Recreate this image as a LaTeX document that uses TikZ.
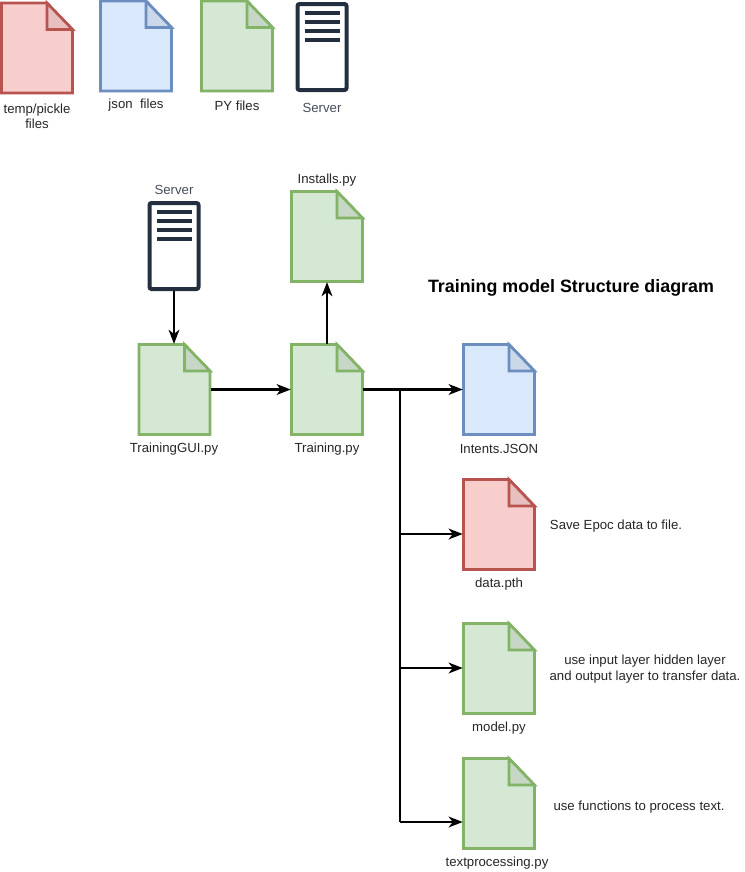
\documentclass[tikz,border=0pt]{standalone}
\usepackage{fontspec}
\setmainfont{Liberation Sans}
\usepackage{xcolor}
\usetikzlibrary{arrows.meta}
\definecolor{redfill}{HTML}{F8CECC}
\definecolor{redline}{HTML}{B85450}
\definecolor{redfold}{HTML}{E6BFBE}
\definecolor{bluefill}{HTML}{DAE8FC}
\definecolor{blueline}{HTML}{6C8EBF}
\definecolor{bluefold}{HTML}{CAD8EA}
\definecolor{greenfill}{HTML}{D5E8D4}
\definecolor{greenline}{HTML}{82B366}
\definecolor{greenfold}{HTML}{C6D8C5}
\definecolor{servercol}{HTML}{232F3E}
\tikzset{
  x=0.75pt, y=-0.75pt,
  lbl/.style={font=\fontsize{9.9}{11.4}\selectfont, text=black!85, align=center, inner sep=0pt},
  srvlbl/.style={lbl, text=servercol!85},
  arrow/.style={draw=black, line width=1.8pt, -{Stealth[length=10.5pt,width=8pt,inset=3pt]}},
  trunk/.style={draw=black, line width=2.2pt},
  filebox/.style={minimum width=54pt, minimum height=68pt, inner sep=0pt},
  redfile/.style={fill=redfill, draw=redline, line width=2pt},
  bluefile/.style={fill=bluefill, draw=blueline, line width=2pt},
  greenfile/.style={fill=greenfill, draw=greenline, line width=2pt},
  redfold/.style={redfile, fill=redfold},
  bluefold/.style={bluefile, fill=bluefold},
  greenfold/.style={greenfile, fill=greenfold},
  serverbox/.style={minimum width=36.75pt, minimum height=64.5pt, inner sep=0pt, draw=servercol,
    line width=3pt, rounded corners=1.5pt, fill=white},
  serverbar/.style={draw=servercol, line width=3.4pt},
}
% file icon: colour, name, centre
\newcommand{\docfile}[3]{
  \node[filebox] (#2) at (#3) {};
  \draw[#1file, shift={(#3)}] (-35.5,-45) -- (10,-45) -- (35.5,-18.5) -- (35.5,45) -- (-35.5,45) -- cycle;
  \draw[#1fold, shift={(#3)}] (10,-45) -- (10,-18.5) -- (35.5,-18.5) -- cycle;
}
% server icon: name, centre
\newcommand{\servericon}[2]{
  \node[serverbox] (#1) at (#2) {};
  \foreach \barpos in {-34,-25,-16,-7}
    \draw[serverbar, shift={(#2)}] (-17.5,\barpos) -- (17.5,\barpos);
}
\begin{document}
\begin{tikzpicture}
  \useasboundingbox (0,0) rectangle (744,872);
  % legend
  \docfile{red}{tempkey}{37,48}
  \docfile{blue}{jsonkey}{136,46}
  \docfile{green}{pykey}{237,46}
  \servericon{serverkey}{322,47}
  \draw (37,116.5) node[lbl] (templbl) {temp/pickle\\files};
  \draw (136,105.5) node[lbl] (jsonlbl) {json\ \ files};
  \draw (237,105.5) node[lbl] (pylbl) {PY files};
  \draw (322,107.5) node[srvlbl] (serverlbl) {Server};
  % structure
  \servericon{server}{174,246}
  \draw (174,189.5) node[srvlbl] (serverlbl2) {Server};
  \docfile{green}{installs}{327,236.5}
  \draw (327,180.5) node[lbl] (installslbl) {Installs.py};
  \docfile{green}{gui}{174.5,389.5}
  \draw (174,449) node[lbl] (guilbl) {TrainingGUI.py};
  \docfile{green}{training}{327,389.5}
  \draw (327,449) node[lbl] (traininglbl) {Training.py};
  \docfile{blue}{intents}{499,389.5}
  \draw (499,449) node[lbl] (intentslbl) {Intents.JSON};
  \docfile{red}{data}{499,524.5}
  \draw (499,584) node[lbl] (datalbl) {data.pth};
  \docfile{green}{model}{499,668.5}
  \draw (499,728) node[lbl] (modellbl) {model.py};
  \docfile{green}{textproc}{499,803.5}
  \draw (497,863) node[lbl] (textproclbl) {textprocessing.py};
  \draw (616,526) node[lbl] (datanote) {Save Epoc data to file.};
  \draw (645,669) node[lbl] (modelnote) {use input layer hidden layer\\and output layer to transfer data.};
  \draw (639,807) node[lbl] (textnote) {use functions to process text.};
  \draw (571,288) node[font=\bfseries\fontsize{13.4}{15}\selectfont, inner sep=0pt] (title) {Training model Structure diagram};
  % connectors
  \coordinate (top) at (400,389.5);
  \coordinate (midb) at (400,534);
  \coordinate (midc) at (400,668);
  \coordinate (midd) at (400,822);
  \draw[arrow] (server) -- (gui.north -| server);
  \draw[arrow] (gui) -- (training);
  \draw[arrow] (training) -- (installs);
  \draw[arrow] (training) -- (intents);
  \draw[trunk] (training.east) -- (top);
  \draw[trunk] (top) -- (midd);
  \draw[arrow] (midb) -- (data.west |- midb);
  \draw[arrow] (midc) -- (model.west |- midc);
  \draw[arrow] (midd) -- (textproc.west |- midd);
\end{tikzpicture}
\end{document}
